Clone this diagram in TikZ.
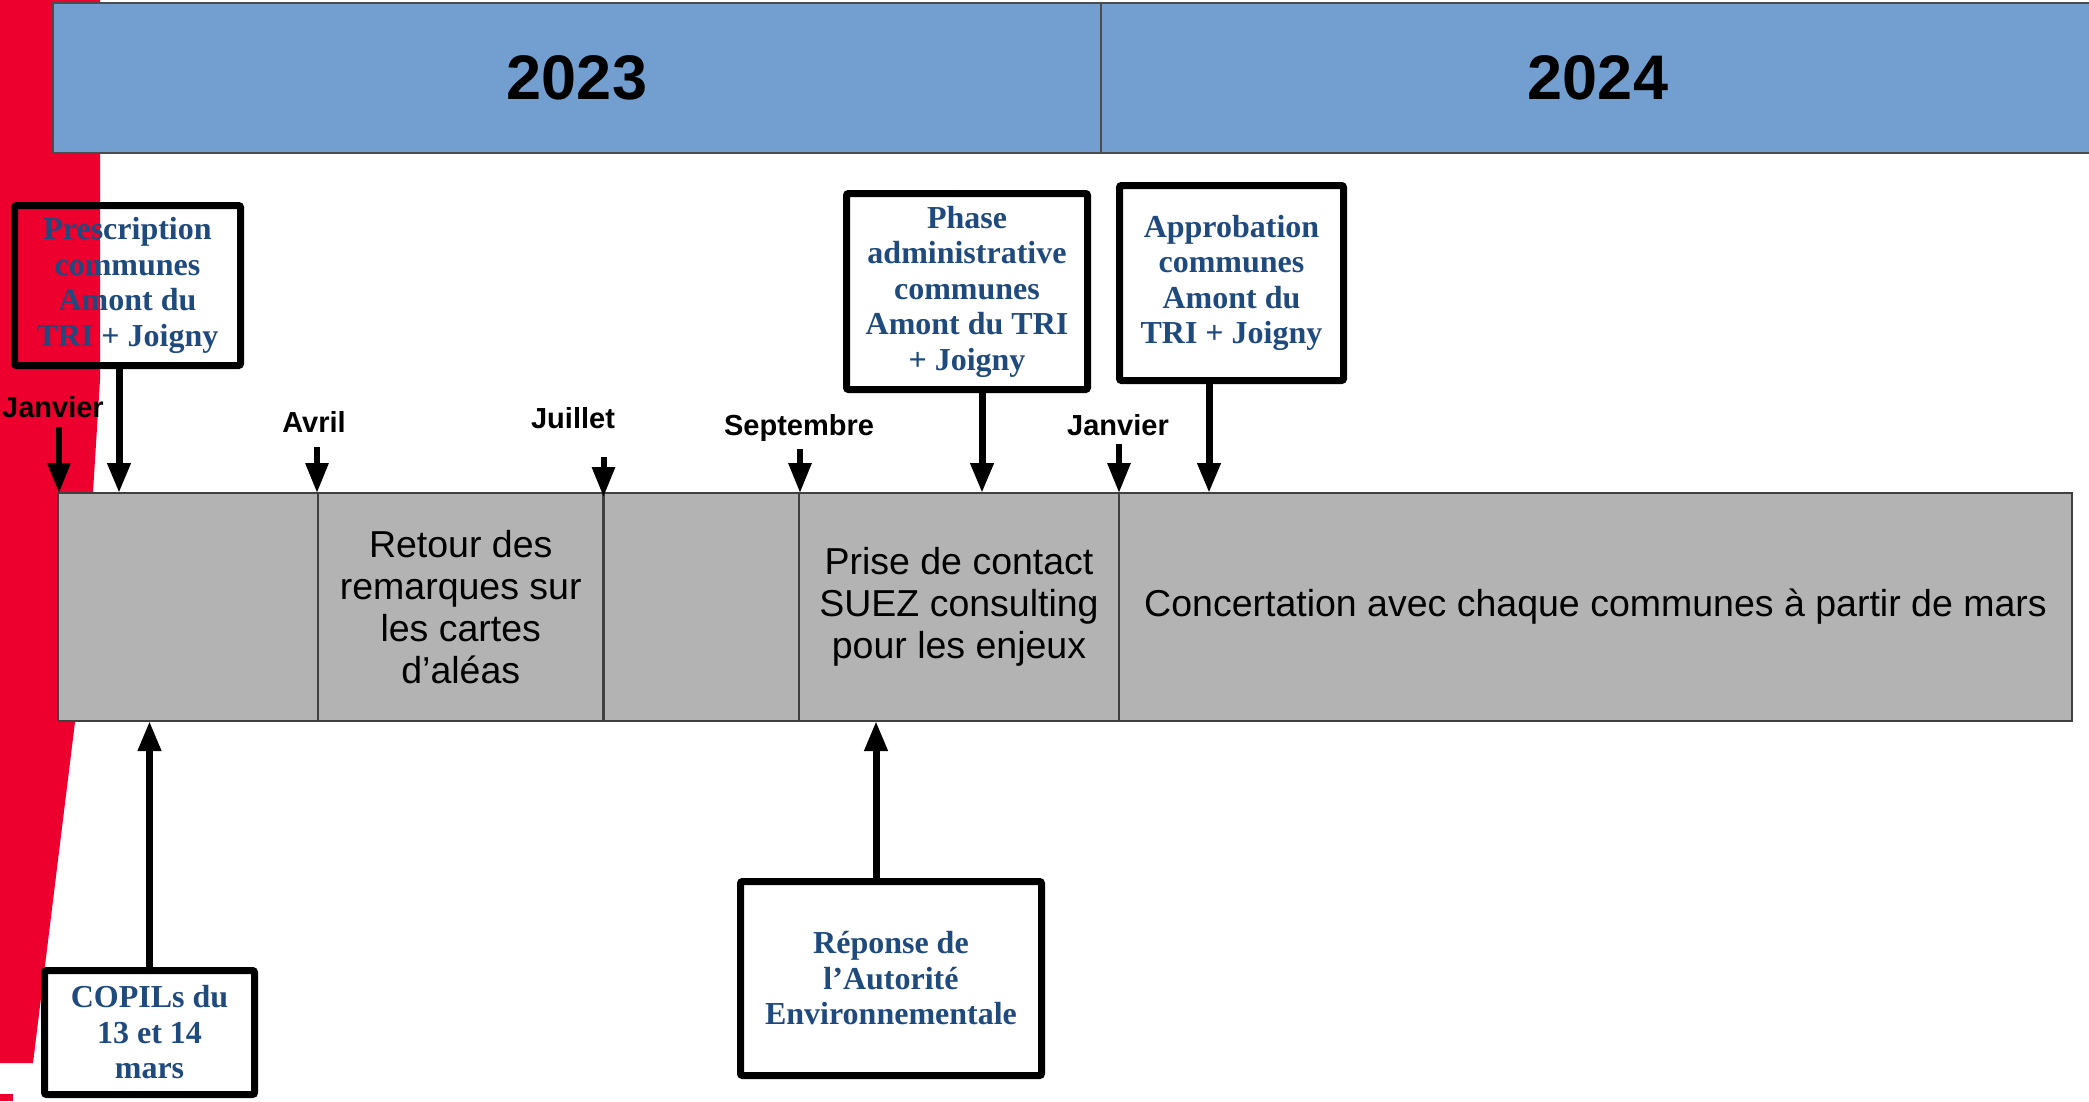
\documentclass[tikz,border=0pt]{standalone}
\usepackage{fontspec}
\setmainfont{Liberation Serif}
\setsansfont{Liberation Sans}
\usetikzlibrary{arrows.meta,positioning}

\definecolor{slidered}{RGB}{238,0,46}
\definecolor{yearblue}{RGB}{114,159,207}
\definecolor{phasegray}{RGB}{179,179,179}
\definecolor{eventblue}{RGB}{31,74,126}

\tikzset{
  yearcell/.style={draw=black!70, line width=2pt, fill=yearblue, inner sep=0pt, outer sep=0pt,
    anchor=north west, minimum height=150pt, font=\sffamily\bfseries\fontsize{63}{70}\selectfont},
  phasecell/.style={draw=black!75, line width=2.5pt, fill=phasegray, inner sep=0pt, outer sep=0pt,
    anchor=north west, minimum height=228pt, align=center, font=\sffamily\fontsize{37.5}{42}\selectfont},
  eventbox/.style={draw=black, line width=7pt, rounded corners=2pt, inner sep=0pt, outer sep=0pt,
    align=center, text=eventblue, font=\rmfamily\bfseries\fontsize{32}{35.5}\selectfont},
  monthlabel/.style={inner sep=0pt, font=\sffamily\bfseries\fontsize{29}{32}\selectfont},
  monthtick/.style={line width=6pt, -{Triangle[width=22pt,length=30pt]}},
  eventlink/.style={line width=7pt, -{Triangle[width=22pt,length=30pt]}}
}

\begin{document}
\begin{tikzpicture}[x=1pt,y=-1pt]
  \useasboundingbox (0,0) rectangle (2089,1101);
  \fill[slidered] (0,0) -- (100,0) -- (100,380) -- (93,492) -- (75,722) -- (33,1063) -- (0,1063) -- cycle;
  \fill[slidered] (0,1094) rectangle (13,1101);

  \node[yearcell, minimum width=1048pt] (y2023) at (53,3) {2023};
  \node[yearcell, minimum width=994pt] (y2024) at (y2023.north east) {2024};

  \node[phasecell, minimum width=260pt] (s1) at (58,493) {};
  \node[phasecell, minimum width=285.5pt] (s2) at (s1.north east) {Retour des\\remarques sur\\les cartes\\d’aléas};
  \node[phasecell, minimum width=195.5pt] (s3) at (s2.north east) {};
  \node[phasecell, minimum width=320pt] (s4) at (s3.north east) {Prise de contact\\SUEZ consulting\\pour les enjeux};
  \node[phasecell, minimum width=953pt] (s5) at (s4.north east) {Concertation avec chaque communes à partir de mars};

  \node[monthlabel] (jan23) at (53,407) {Janvier};
  \node[monthlabel] (apr23) at (314,422) {Avril};
  \node[monthlabel] (jul23) at (573,418) {Juillet};
  \node[monthlabel] (sep23) at (799,428) {Septembre};
  \node[monthlabel] (jan24) at (1118,425) {Janvier};

  \coordinate (t1) at (59,427);
  \coordinate (t2) at (317,447);
  \coordinate (t3) at (603.5,457);
  \coordinate (t4) at (800,449);
  \coordinate (t5) at (1119,444);
  \draw[monthtick] (t1) -- (t1 |- s1.north);
  \draw[monthtick] (t2) -- (t2 |- s2.north);
  \draw[monthtick] (t3) -- ([yshift=-4pt]t3 |- s3.north);
  \draw[monthtick] (t4) -- (t4 |- s4.north);
  \draw[monthtick] (t5) -- (t5 |- s5.north);

  \node[eventbox, minimum width=226pt, minimum height=160pt] (presc) at (127.5,285.5) {Prescription\\communes\\Amont du\\TRI + Joigny};
  \node[eventbox, minimum width=210pt, minimum height=124pt] (copil) at (149.5,1032.5) {COPILs du\\13 et 14\\mars};
  \node[eventbox, minimum width=241pt, minimum height=196pt] (admin) at (967,291.5) {Phase\\administrative\\communes\\Amont du TRI\\+ Joigny};
  \node[eventbox, minimum width=224pt, minimum height=195pt] (approb) at (1231.5,283) {Approbation\\communes\\Amont du\\TRI + Joigny};
  \node[eventbox, minimum width=301pt, minimum height=194pt] (ae) at (891,978.5) {Réponse de\\l’Autorité\\Environnementale};

  \draw[eventlink] ([xshift=-8.5pt]presc.south) -- ([xshift=-8.5pt]presc.south |- s1.north);
  \draw[eventlink] (copil.north) -- (copil.north |- s1.south);
  \draw[eventlink] ([xshift=15pt]admin.south) -- ([xshift=15pt]admin.south |- s4.north);
  \draw[eventlink] ([xshift=-22.5pt]approb.south) -- ([xshift=-22.5pt]approb.south |- s5.north);
  \draw[eventlink] ([xshift=-15pt]ae.north) -- ([xshift=-15pt]ae.north |- s4.south);
\end{tikzpicture}
\end{document}
